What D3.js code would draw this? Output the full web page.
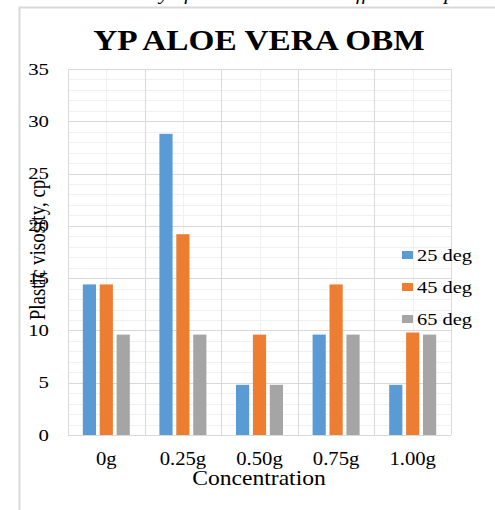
<!DOCTYPE html>
<html>
<head>
<meta charset="utf-8">
<script src="https://cdn.jsdelivr.net/npm/d3@7"></script>
<style>
  html, body { margin: 0; padding: 0; background: #fff; }
  svg { display: block; }
  text { font-family: "Liberation Serif", "Times New Roman", serif; fill: #000; }
</style>
</head>
<body>
<div id="chart"></div>
<script>
// data
const categories = ['0g', '0.25g', '0.50g', '0.75g', '1.00g']
const seriesNames = ['25 deg', '45 deg', '65 deg']
const deg25 = [14.4, 28.8, 4.8, 9.6, 4.8]
const deg45 = [14.4, 19.2, 9.6, 14.4, 9.8]
const deg65 = [9.6, 9.6, 4.8, 9.6, 9.6]
const yTicks = [0, 5, 10, 15, 20, 25, 30, 35]

const colors = ['#5b9bd5', '#ed7d31', '#a5a5a5']
const values = [deg25, deg45, deg65]

const width = 495
const height = 510
const plot = { left: 68, right: 451, top: 69, bottom: 435 }

const svg = d3.select('#chart')
  .append('svg')
  .attr('width', width)
  .attr('height', height)

// the source picture looks stretched sideways, so texts get a scaleX
function place (sel, x, y, sx) {
  return sel.attr('transform', `translate(${x},${y}) scale(${sx},1)`)
}

// page caption, cut off at the top in the source
place(svg.append('text'), 35, 0, 1.15)
  .style('font-style', 'italic')
  .style('font-size', '18px')
  .text('Plastic viscosity of aloe vera mud at different temperatures')

// chart frame
svg.append('path')
  .attr('d', `M19.5,${height} V7.5 H${width}`)
  .attr('fill', 'none')
  .attr('stroke', '#d9d9d9')
  .attr('stroke-width', 2)

// scales
const x = d3.scaleBand()
  .domain(categories)
  .range([plot.left, plot.right])
  .padding(0)

const inner = d3.scaleBand()
  .domain(seriesNames)
  .range([-23.5, 23.5])
  .paddingInner(0.22)

const y = d3.scaleLinear()
  .domain([0, 35])
  .range([plot.bottom, plot.top])

const px = v => Math.round(v) + 0.5

// minor grid
const g = svg.append('g')
g.selectAll('line.minor-y')
  .data(d3.range(0, 36).filter(v => v % 5 !== 0))
  .enter().append('line')
  .attr('x1', plot.left).attr('x2', plot.right)
  .attr('y1', d => px(y(d))).attr('y2', d => px(y(d)))
  .attr('stroke', '#f0f0f0')

g.selectAll('line.minor-x')
  .data(categories)
  .enter().append('line')
  .attr('x1', d => px(x(d) + x.bandwidth() / 2))
  .attr('x2', d => px(x(d) + x.bandwidth() / 2))
  .attr('y1', plot.top).attr('y2', plot.bottom)
  .attr('stroke', '#f0f0f0')

// major grid
g.selectAll('line.major-y')
  .data(yTicks)
  .enter().append('line')
  .attr('x1', plot.left).attr('x2', plot.right)
  .attr('y1', d => px(y(d))).attr('y2', d => px(y(d)))
  .attr('stroke', '#d9d9d9')

const edges = categories.map(c => x(c)).concat([plot.right])
g.selectAll('line.major-x')
  .data(edges)
  .enter().append('line')
  .attr('x1', d => px(d)).attr('x2', d => px(d))
  .attr('y1', plot.top).attr('y2', plot.bottom)
  .attr('stroke', '#d9d9d9')

// bars
const groups = svg.append('g')
  .selectAll('g')
  .data(categories)
  .enter().append('g')
  .attr('transform', d => `translate(${x(d) + x.bandwidth() / 2},0)`)

groups.selectAll('rect')
  .data((d, i) => seriesNames.map((s, j) => ({ s: s, v: values[j][i], c: colors[j] })))
  .enter().append('rect')
  .attr('x', d => inner(d.s))
  .attr('width', inner.bandwidth())
  .attr('y', d => y(d.v))
  .attr('height', d => y(0) - y(d.v))
  .attr('fill', d => d.c)

// y tick labels
svg.append('g')
  .selectAll('text')
  .data(yTicks)
  .enter().append('text')
  .attr('transform', d => `translate(49,${y(d) + 5.5}) scale(1.3,1)`)
  .attr('text-anchor', 'end')
  .style('font-size', '16px')
  .text(d => d)

// x tick labels
svg.append('g')
  .selectAll('text')
  .data(categories)
  .enter().append('text')
  .attr('transform', d => `translate(${x(d) + x.bandwidth() / 2},465) scale(1.15,1)`)
  .attr('text-anchor', 'middle')
  .style('font-size', '18px')
  .text(d => d)

// axis titles
place(svg.append('text'), 259, 485, 1.18)
  .attr('text-anchor', 'middle')
  .style('font-size', '20px')
  .text('Concentration')

svg.append('text')
  .attr('transform', 'translate(45,250) scale(1.2,1) rotate(-90)')
  .attr('text-anchor', 'middle')
  .style('font-size', '19px')
  .text('Plastic visosity, cp')

// title
place(svg.append('text'), 259, 50, 1.11)
  .attr('text-anchor', 'middle')
  .style('font-size', '30px')
  .style('font-weight', 'bold')
  .text('YP ALOE VERA OBM')

// legend
const legend = svg.append('g')
  .selectAll('g')
  .data(seriesNames)
  .enter().append('g')
  .attr('transform', (d, i) => `translate(402,${255 + i * 32})`)

legend.append('rect')
  .attr('x', 0).attr('y', -4)
  .attr('width', 11).attr('height', 8)
  .attr('fill', (d, i) => colors[i])

legend.append('text')
  .attr('transform', 'translate(15,6) scale(1.2,1)')
  .style('font-size', '17px')
  .text(d => d)
</script>
</body>
</html>
